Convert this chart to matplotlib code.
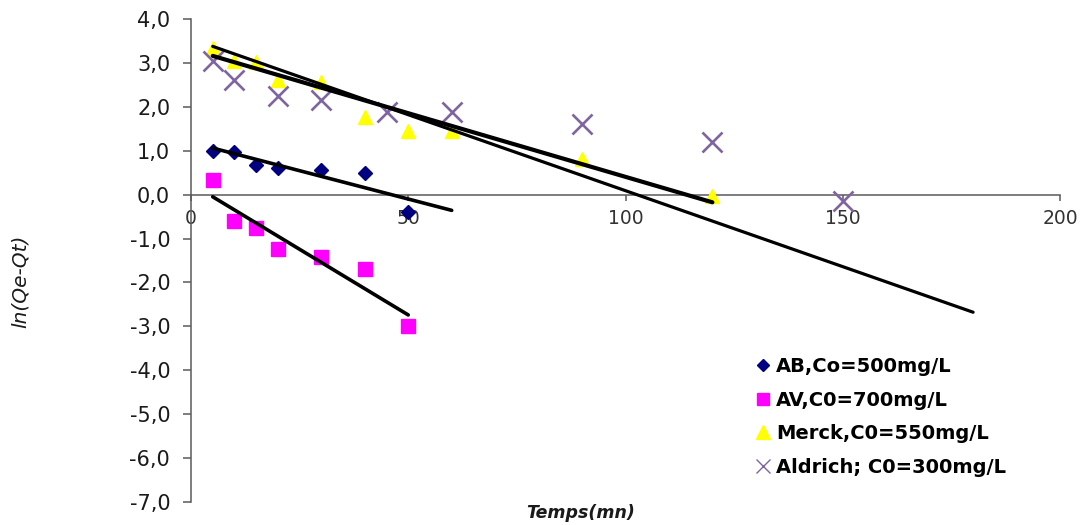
import matplotlib
matplotlib.use("Agg")
import matplotlib.pyplot as plt
import numpy as np

plt.rcParams['font.family'] = ['DejaVu Sans']

# Sorption kinetics: ln(Qe - Qt) versus contact time
ab_t = [5, 10, 15, 20, 30, 40, 50]
ab_y = [1.0, 0.98, 0.67, 0.60, 0.55, 0.50, -0.40]

av_t = [5, 10, 15, 20, 30, 40, 50]
av_y = [0.33, -0.61, -0.77, -1.24, -1.43, -1.69, -3.00]

merck_t = [5, 10, 15, 20, 30, 40, 50, 60, 90, 120]
merck_y = [3.33, 3.05, 3.01, 2.62, 2.56, 1.77, 1.44, 1.46, 0.81, -0.02]

aldrich_t = [5, 10, 20, 30, 45, 60, 90, 120, 150]
aldrich_y = [3.05, 2.60, 2.25, 2.15, 1.88, 1.88, 1.60, 1.20, -0.14]

labels = ["AB,Co=500mg/L", "AV,C0=700mg/L", "Merck,C0=550mg/L", "Aldrich; C0=300mg/L"]

# Linear trend lines: ln(Qe-Qt) = intercept + slope * t over [t_start, t_end]
trend_slope = [-0.0258, -0.0598, -0.0290, -0.0346]
trend_intercept = [1.19, 0.25, 3.305, 3.55]
trend_start = [5, 5, 5, 5]
trend_end = [60, 50, 120, 180]

yticks = [4, 3, 2, 1, 0, -1, -2, -3, -4, -5, -6, -7]
xticks = [0, 50, 100, 150, 200]

W, H = 1082, 525
fig = plt.figure(figsize=(W / 100, H / 100), dpi=100)
fig.patch.set_facecolor("white")
ax = fig.add_axes([191 / W, 1 - 502 / H, 869 / W, 483 / H])

axis_col = "#5a5a5a"

series = [
    (ab_t, ab_y, dict(marker="D", ms=7, color="#000080", mec="#000080")),
    (av_t, av_y, dict(marker="s", ms=9.5, color="#ff00ff", mec="#ff00ff")),
    (merck_t, merck_y, dict(marker="^", ms=10, color="#ffff00", mec="#ffff00")),
    (aldrich_t, aldrich_y, dict(marker="x", ms=14, color="#8064a2", mew=1.9)),
]

handles = []
for (t, y, style), lab in zip(series, labels):
    h, = ax.plot(t, y, linestyle="none", label=lab, zorder=3, clip_on=False, **style)
    handles.append(h)

for s, b, t0, t1, w in zip(trend_slope, trend_intercept, trend_start, trend_end,
                           [2.6, 2.6, 3.0, 2.3]):
    tt = np.array([t0, t1])
    ax.plot(tt, b + s * tt, color="black", lw=w, solid_capstyle="round", zorder=4)

ax.set_xlim(0, 200)
ax.set_ylim(-7, 4)

for side in ("top", "right"):
    ax.spines[side].set_visible(False)
ax.spines["bottom"].set_position(("data", 0))
for side in ("left", "bottom"):
    ax.spines[side].set_color(axis_col)
    ax.spines[side].set_linewidth(1.1)

ax.set_yticks(yticks)
ax.set_yticklabels([f"{v:.1f}".replace(".", ",") for v in yticks])
ax.set_xticks(xticks)
ax.set_xticklabels([str(v) for v in xticks])

ax.tick_params(axis="y", direction="out", length=6, width=1.1, color=axis_col,
               labelsize=15, pad=9, labelcolor="#1a1a1a")
ax.tick_params(axis="x", direction="out", length=4, width=1.1, color=axis_col,
               labelsize=13.5, pad=6, labelcolor="#333333")

fig.text(20 / W, 1 - 281 / H, "ln(Qe-Qt)", rotation=90, fontstyle="italic",
         fontsize=14.5, ha="center", va="center", color="#1a1a1a")
fig.text(581 / W, 1 - 513 / H, "Temps(mn)", fontstyle="italic", fontweight="bold",
         fontsize=12.5, ha="center", va="center", color="#1a1a1a")

leg = ax.legend(handles=handles, loc="center left",
                bbox_to_anchor=(753 / W, 1 - 417 / H), bbox_transform=fig.transFigure,
                frameon=False, borderpad=0, borderaxespad=0, handlelength=1.0,
                handletextpad=0.2, labelspacing=0.75,
                prop=dict(size=14, weight="bold"))
for h, ms in zip(leg.legend_handles, [6, 9, 9.5, 10]):
    h.set_markersize(ms)
leg.legend_handles[3].set_markeredgewidth(1.0)

fig.savefig("out.png", dpi=100, facecolor="white")
